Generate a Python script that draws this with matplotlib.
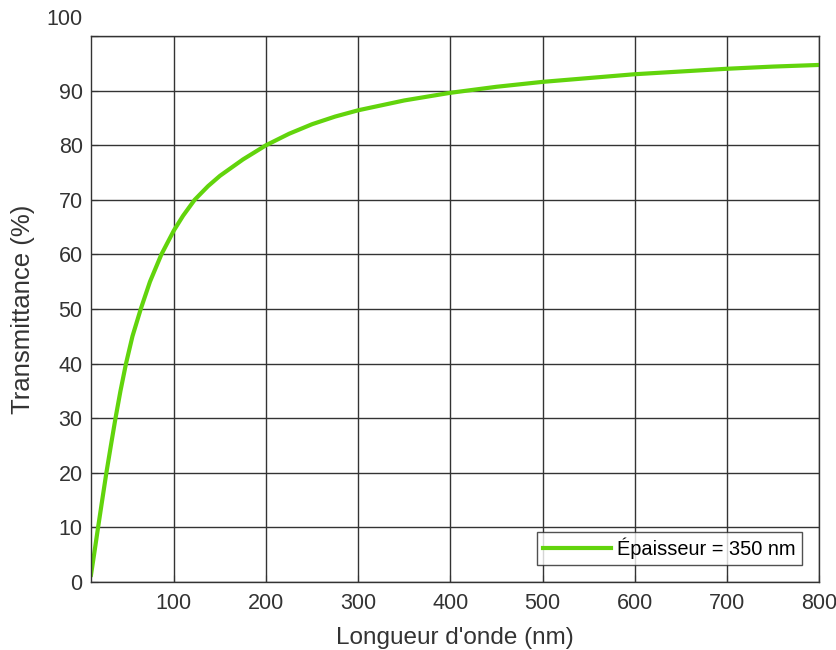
import matplotlib.pyplot as plt
import matplotlib.transforms as mtransforms

# values
wavelength = [10, 13.5, 17.7, 22, 26.7, 31.5, 36.6, 42, 48, 55, 64, 74, 86.4, 100,
              110, 122.5, 137, 150, 175, 200, 225, 250, 275, 300, 350, 400, 450,
              500, 550, 600, 650, 700, 750, 800]
transmittance = [1.3, 5.2, 10, 14.8, 20, 24.9, 30, 35.0, 40, 45.0, 50, 55.0, 60, 64.4,
                 67.1, 70, 72.5, 74.4, 77.4, 80, 82.1, 83.85, 85.25, 86.4, 88.2, 89.6, 90.7,
                 91.6, 92.3, 93.0, 93.5, 94.0, 94.4, 94.7]
xticks = [100, 200, 300, 400, 500, 600, 700, 800]
yticks = [0, 10, 20, 30, 40, 50, 60, 70, 80, 90, 100]
label = "Épaisseur = 350 nm"

plt.rcParams["font.family"] = ["Liberation Sans", "DejaVu Sans"]
txt = "#333333"

fig = plt.figure(figsize=(8.37, 6.5), dpi=100)
ax = fig.add_axes([0.1087, 0.1046, 0.8698, 0.84])

ax.plot(wavelength, transmittance, color="#62d40c", lw=3, label=label,
        solid_joinstyle="round")

ax.set_xlim(10, 800)
ax.set_ylim(0, 100)
ax.set_xticks(xticks)
ax.set_yticks(yticks)
ax.grid(True, color="#333333", lw=1)
ax.tick_params(direction="in", length=5, colors=txt, labelsize=15.5)
ax.tick_params(axis="x", pad=8)
ax.tick_params(axis="y", pad=6)
for s in ax.spines.values():
    s.set_color("#333333")
    s.set_linewidth(1)

ax.set_xlabel("Longueur d'onde (nm)", fontsize=17.5, color=txt, labelpad=9)
ax.set_ylabel("Transmittance (%)", fontsize=18.5, color=txt, labelpad=8)

# top y label sits a bit above the axes edge in the original
top = ax.get_yticklabels()[-1]
top.set_transform(top.get_transform() + mtransforms.ScaledTranslation(0, 0.19, fig.dpi_scale_trans))

leg = ax.legend(loc="lower right", fontsize=14.4, frameon=True, fancybox=False,
                edgecolor="#262626", handlelength=3.4, handletextpad=0.3,
                borderaxespad=0.85, borderpad=0.3)
leg.get_frame().set_linewidth(1)

fig.savefig("out.png", dpi=100)
